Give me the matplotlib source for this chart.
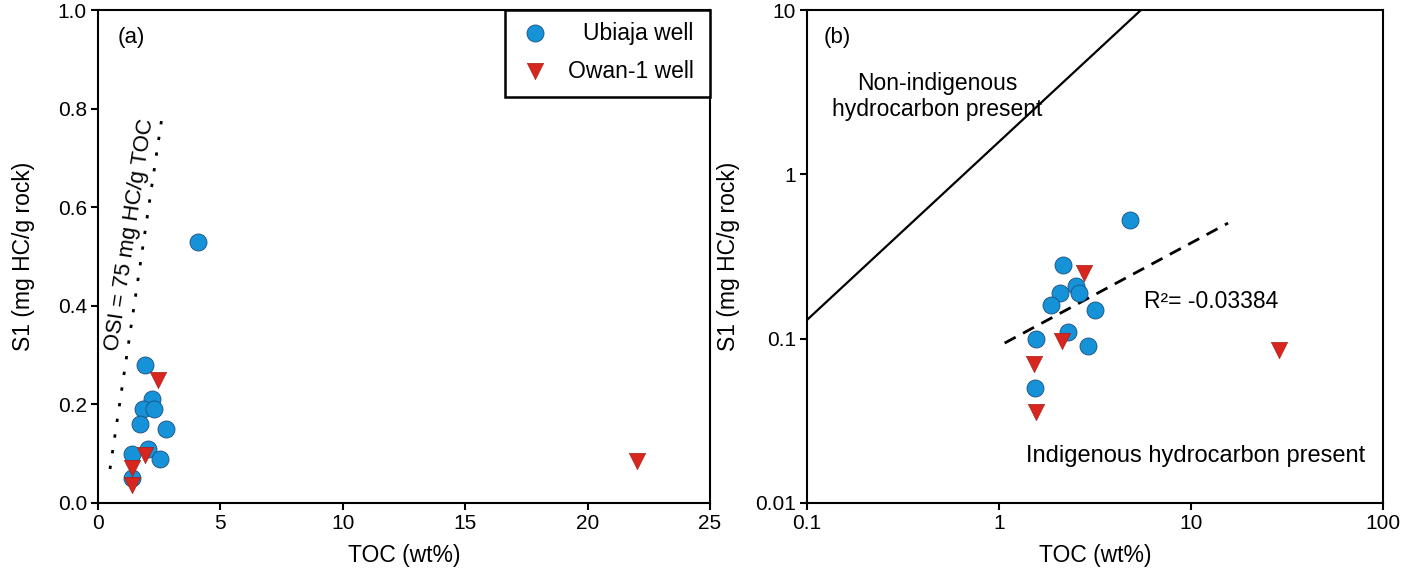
import numpy as np
import matplotlib
matplotlib.use('Agg')
import matplotlib.pyplot as plt
from matplotlib.patches import Rectangle

plt.rcParams['font.family'] = ['Liberation Sans', 'DejaVu Sans']

# S1 (mg HC/g rock), same samples in both panels
ubiaja_s1 = [0.53, 0.28, 0.21, 0.19, 0.19, 0.16, 0.15, 0.11, 0.10, 0.09, 0.05]
owan_s1 = [0.25, 0.097, 0.07, 0.036, 0.085]
# TOC (wt%) as plotted in (a)
ubiaja_toc_a = [4.1, 1.92, 2.22, 1.85, 2.3, 1.7, 2.77, 2.04, 1.39, 2.55, 1.4]
owan_toc_a = [2.45, 1.92, 1.4, 1.4, 22.0]
# TOC (wt%) as plotted in (b)
ubiaja_toc_b = [4.83, 2.15, 2.52, 2.09, 2.62, 1.87, 3.16, 2.30, 1.56, 2.92, 1.54]
owan_toc_b = [2.78, 2.13, 1.53, 1.56, 28.8]

# OSI = 75 reference line (a)
osi_toc = [0.49, 2.62]
osi_s1 = [0.069, 0.785]
# boundary line (b)
bound_toc = [0.1, 5.49]
bound_s1 = [0.13, 10.0]
# trend line (b)
trend_toc = [1.07, 15.6]
trend_s1 = [0.094, 0.505]
r2_text = 'R\u00b2= -0.03384'

blue = '#1592d8'
red = '#d7261e'

fig = plt.figure(figsize=(14.24, 5.74), dpi=100)
ax1 = fig.add_axes([98/1424, 71/574, 612/1424, 493/574])
ax2 = fig.add_axes([807/1424, 71/574, 576/1424, 493/574])

for ax in (ax1, ax2):
    for sp in ax.spines.values():
        sp.set_linewidth(1.5)
    ax.tick_params(direction='out', length=5, width=1.5, labelsize=15, pad=3)
    ax.set_xlabel('TOC (wt%)', fontsize=16.5, labelpad=8)
ax1.set_ylabel('S1 (mg HC/g rock)', fontsize=16.5, labelpad=16)
ax2.set_ylabel('S1 (mg HC/g rock)', fontsize=16.5, labelpad=11)

# ---- (a) linear plot
ax1.plot(osi_toc, osi_s1, color='black', lw=2, linestyle=(0, (1.2, 4.5)), zorder=2)
ax1.text(1.3, 0.545, 'OSI = 75 mg HC/g TOC', rotation=81.5, fontsize=16,
         ha='center', va='center')
ax1.scatter(ubiaja_toc_a, ubiaja_s1, s=150, marker='o', color=blue,
            edgecolors='#1d4f7a', linewidths=0.6, zorder=3)
ax1.scatter(owan_toc_a, owan_s1, s=140, marker='v', color=red,
            edgecolors='#a31a14', linewidths=0.4, zorder=4)
ax1.set_xlim(0, 25)
ax1.set_ylim(0, 1.0)
ax1.set_xticks([0, 5, 10, 15, 20, 25])
ax1.set_yticks([0.0, 0.2, 0.4, 0.6, 0.8, 1.0])
ax1.set_yticklabels(['0.0', '0.2', '0.4', '0.6', '0.8', '1.0'])
ax1.text(0.054, 0.945, '(a)', transform=ax1.transAxes, fontsize=16,
         ha='center', va='center')

# legend box drawn by hand (text right aligned)
ax1.add_patch(Rectangle((0.665, 0.824), 0.335, 0.176, transform=ax1.transAxes,
                        facecolor='white', edgecolor='black', lw=1.8, zorder=5,
                        clip_on=False))
ax1.scatter([0.714], [0.953], s=150, marker='o', color=blue, edgecolors='#1d4f7a',
            linewidths=0.6, transform=ax1.transAxes, zorder=6, clip_on=False)
ax1.scatter([0.714], [0.876], s=140, marker='v', color=red, edgecolors='#a31a14',
            linewidths=0.4, transform=ax1.transAxes, zorder=6, clip_on=False)
ax1.text(0.973, 0.953, 'Ubiaja well', transform=ax1.transAxes, fontsize=16.5,
         ha='right', va='center', zorder=6)
ax1.text(0.973, 0.876, 'Owan-1 well', transform=ax1.transAxes, fontsize=16.5,
         ha='right', va='center', zorder=6)

# ---- (b) log-log plot
ax2.set_xscale('log')
ax2.set_yscale('log')
ax2.plot(bound_toc, bound_s1, color='black', lw=1.6, zorder=2)
ax2.plot(trend_toc, trend_s1, color='black', lw=2, linestyle=(0, (4.5, 3)), zorder=2)
ax2.scatter(ubiaja_toc_b, ubiaja_s1, s=150, marker='o', color=blue,
            edgecolors='#1d4f7a', linewidths=0.6, zorder=3)
ax2.scatter(owan_toc_b, owan_s1, s=140, marker='v', color=red,
            edgecolors='#a31a14', linewidths=0.4, zorder=4)
ax2.set_xlim(0.1, 100)
ax2.set_ylim(0.01, 10)
ax2.set_xticks([0.1, 1, 10, 100])
ax2.set_xticklabels(['0.1', '1', '10', '100'])
ax2.set_yticks([0.01, 0.1, 1, 10])
ax2.set_yticklabels(['0.01', '0.1', '1', '10'])
ax2.minorticks_off()
ax2.text(0.052, 0.945, '(b)', transform=ax2.transAxes, fontsize=16,
         ha='center', va='center')
ax2.text(0.226, 0.825, 'Non-indigenous\nhydrocarbon present', transform=ax2.transAxes,
         fontsize=16.5, ha='center', va='center', linespacing=1.15)
ax2.text(0.674, 0.095, 'Indigenous hydrocarbon present', transform=ax2.transAxes,
         fontsize=17, ha='center', va='center')
ax2.text(5.69, 0.168, r2_text, fontsize=16.5, ha='left', va='center')

fig.savefig('out.png', dpi=100)
